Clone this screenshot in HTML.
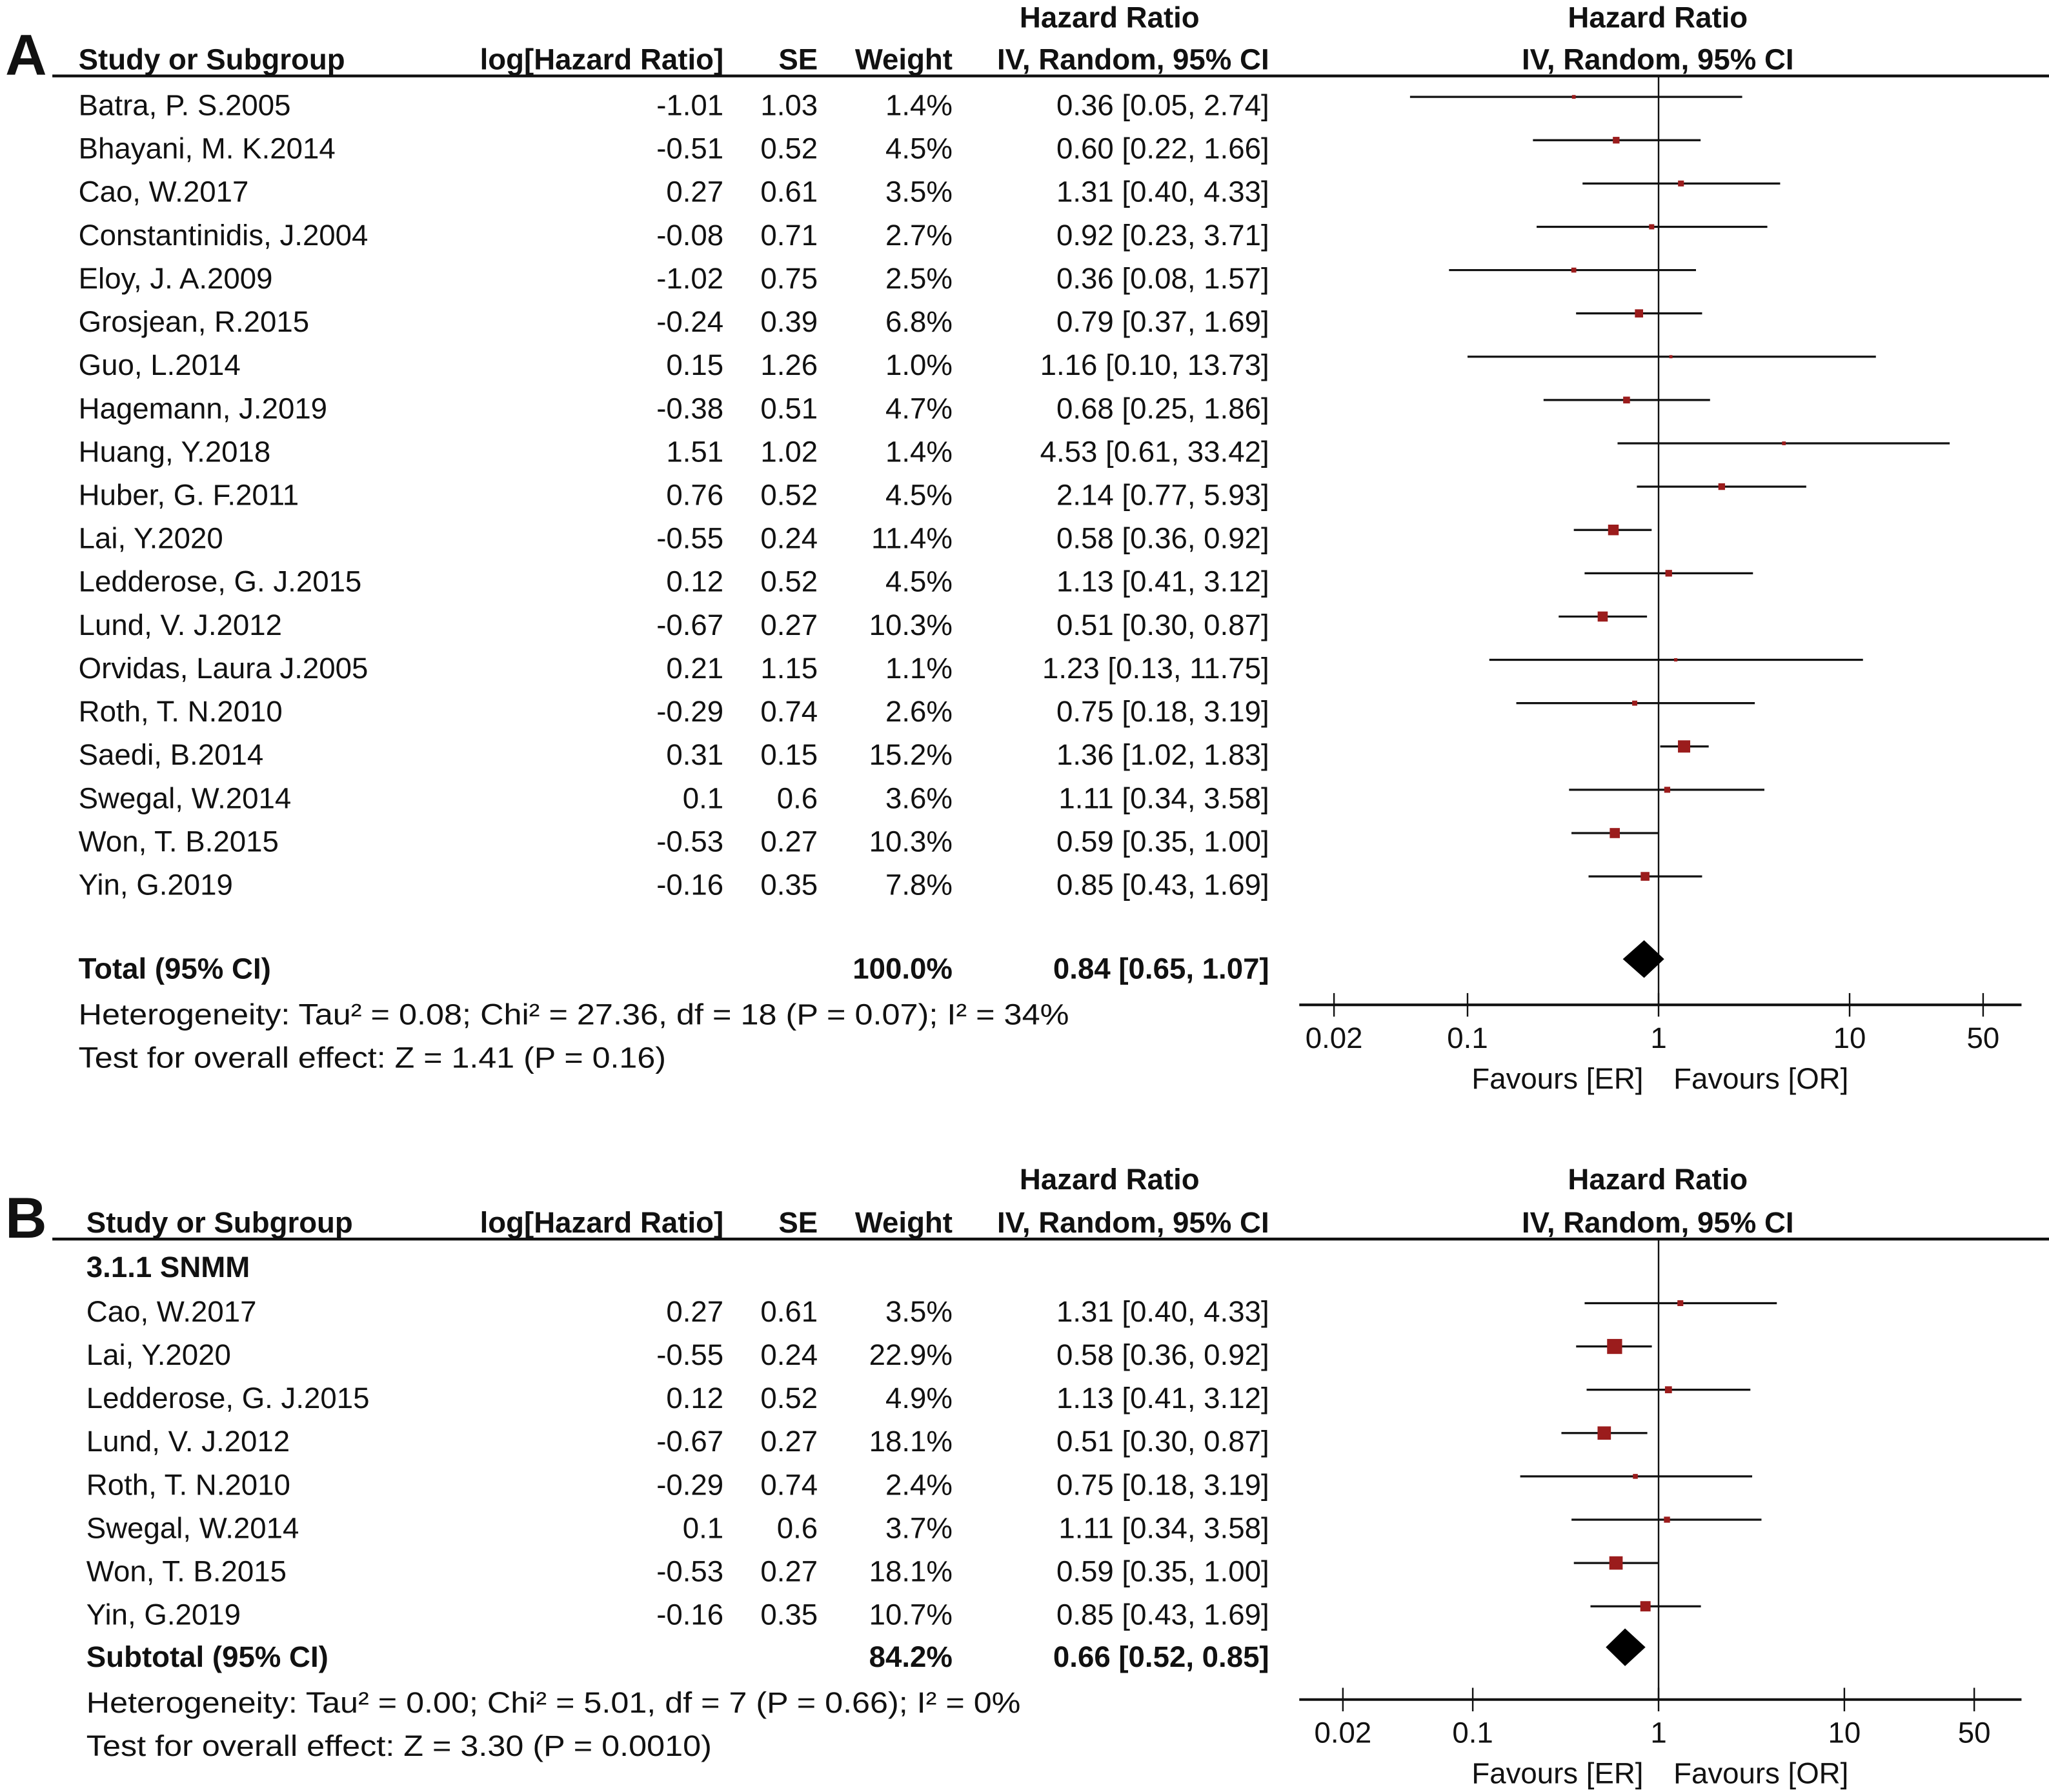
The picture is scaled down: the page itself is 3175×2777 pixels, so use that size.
<!DOCTYPE html>
<html><head><meta charset="utf-8"><style>
html,body{margin:0;padding:0;background:#fff}
svg{display:block}
text{font-family:"Liberation Sans",Arial,sans-serif;font-size:22.5px;fill:#111}
.b{font-weight:bold}
</style></head><body>
<svg id="chart" xmlns="http://www.w3.org/2000/svg" width="3175" height="2777" viewBox="0 0 1566 1369.6">
<g id="A"></g>
<g id="B"></g>
</svg>
<script>
// Panel A data
const studiesA = ["Batra, P. S.2005","Bhayani, M. K.2014","Cao, W.2017","Constantinidis, J.2004","Eloy, J. A.2009","Grosjean, R.2015","Guo, L.2014","Hagemann, J.2019","Huang, Y.2018","Huber, G. F.2011","Lai, Y.2020","Ledderose, G. J.2015","Lund, V. J.2012","Orvidas, Laura J.2005","Roth, T. N.2010","Saedi, B.2014","Swegal, W.2014","Won, T. B.2015","Yin, G.2019"];
const logHRA = ["-1.01","-0.51","0.27","-0.08","-1.02","-0.24","0.15","-0.38","1.51","0.76","-0.55","0.12","-0.67","0.21","-0.29","0.31","0.1","-0.53","-0.16"];
const seA = ["1.03","0.52","0.61","0.71","0.75","0.39","1.26","0.51","1.02","0.52","0.24","0.52","0.27","1.15","0.74","0.15","0.6","0.27","0.35"];
const weightA = [1.4,4.5,3.5,2.7,2.5,6.8,1.0,4.7,1.4,4.5,11.4,4.5,10.3,1.1,2.6,15.2,3.6,10.3,7.8];
const hrA = [0.36,0.60,1.31,0.92,0.36,0.79,1.16,0.68,4.53,2.14,0.58,1.13,0.51,1.23,0.75,1.36,1.11,0.59,0.85];
const loA = [0.05,0.22,0.40,0.23,0.08,0.37,0.10,0.25,0.61,0.77,0.36,0.41,0.30,0.13,0.18,1.02,0.34,0.35,0.43];
const hiA = [2.74,1.66,4.33,3.71,1.57,1.69,13.73,1.86,33.42,5.93,0.92,3.12,0.87,11.75,3.19,1.83,3.58,1.00,1.69];
const totalA = [0.84,0.65,1.07];
// Panel B data
const studiesB = ["Cao, W.2017","Lai, Y.2020","Ledderose, G. J.2015","Lund, V. J.2012","Roth, T. N.2010","Swegal, W.2014","Won, T. B.2015","Yin, G.2019"];
const logHRB = ["0.27","-0.55","0.12","-0.67","-0.29","0.1","-0.53","-0.16"];
const seB = ["0.61","0.24","0.52","0.27","0.74","0.6","0.27","0.35"];
const weightB = [3.5,22.9,4.9,18.1,2.4,3.7,18.1,10.7];
const hrB = [1.31,0.58,1.13,0.51,0.75,1.11,0.59,0.85];
const loB = [0.40,0.36,0.41,0.30,0.18,0.34,0.35,0.43];
const hiB = [4.33,0.92,3.12,0.87,3.19,3.58,1.00,1.69];
const subtotalB = [0.66,0.52,0.85];
const tickValues = [0.02,0.1,1,10,50];
const tickLabels = ["0.02","0.1","1","10","50"];

const NS="http://www.w3.org/2000/svg";
function mk(parent,tag,attrs,txt){const e=document.createElementNS(NS,tag);for(const k in attrs)e.setAttribute(k,attrs[k]);if(txt!==undefined)e.textContent=txt;parent.appendChild(e);return e;}
function fmt(v){return v.toFixed(2);}

function panel(g,cfg){
  const xs=v=>cfg.x1+cfg.dec*Math.log10(v);
  // letter
  let t=mk(g,'text',{x:cfg.letterX,y:cfg.hy2+12,style:'font-size:44px;font-weight:bold'},cfg.letter);
  
  
  // headers
  const hdr=[["Hazard Ratio",848,cfg.hy1,'middle'],["Hazard Ratio",1267,cfg.hy1,'middle'],
    ["Study or Subgroup",cfg.sx,cfg.hy2,'start'],["log[Hazard Ratio]",553,cfg.hy2,'end'],["SE",625,cfg.hy2,'end'],
    ["Weight",728,cfg.hy2,'end'],["IV, Random, 95% CI",970,cfg.hy2,'end'],["IV, Random, 95% CI",1267,cfg.hy2,'middle']];
  hdr.forEach(h=>{const e=mk(g,'text',{x:h[1],y:h[2]+8,'text-anchor':h[3],class:'b'},h[0]);
    
    });
  let l=mk(g,'line',{x1:40,x2:1566,y1:cfg.hy2+13,y2:cfg.hy2+13,stroke:'#111','stroke-width':2.2});
  
  
  // null line
  l=mk(g,'line',{x1:xs(1),x2:xs(1),y1:cfg.hy2+13,y2:cfg.axisY,stroke:'#111','stroke-width':1.2});
  
  
  if(cfg.sub){const e=mk(g,'text',{x:cfg.sx,y:cfg.subY+8,class:'b'},cfg.sub);
    
    }
  cfg.studies.forEach((s,i)=>{
    const y=cfg.y0+cfg.dy*i;
    const row=mk(g,'g',{});
    
    
    mk(row,'text',{x:cfg.sx,y:y+8},s);
    mk(row,'text',{x:553,y:y+8,'text-anchor':'end'},cfg.lhr[i]);
    mk(row,'text',{x:625,y:y+8,'text-anchor':'end'},cfg.se[i]);
    mk(row,'text',{x:728,y:y+8,'text-anchor':'end'},cfg.w[i].toFixed(1)+'%');
    mk(row,'text',{x:970,y:y+8,'text-anchor':'end'},fmt(cfg.hr[i])+' ['+fmt(cfg.lo[i])+', '+fmt(cfg.hi[i])+']');
    const my=y-6;
    const ci=mk(row,'line',{x1:xs(cfg.lo[i]),x2:xs(cfg.hi[i]),y1:my,y2:my,stroke:'#111','stroke-width':1.6});
    
    
    const sz=Math.sqrt(cfg.w[i])*2.4;
    const sq=mk(row,'rect',{x:xs(cfg.hr[i])-sz/2,y:my-sz/2,width:sz,height:sz,fill:'#9b1c1c'});
    
    
  });
  // total
  const ty=cfg.totY;
  const tg=mk(g,'g',{});
  
  
  mk(tg,'text',{x:cfg.sx,y:ty+8,class:'b'},cfg.totLabel);
  mk(tg,'text',{x:728,y:ty+8,'text-anchor':'end',class:'b'},cfg.totW);
  mk(tg,'text',{x:970,y:ty+8,'text-anchor':'end',class:'b'},fmt(cfg.tot[0])+' ['+fmt(cfg.tot[1])+', '+fmt(cfg.tot[2])+']');
  const dyc=ty-7;
  const d=mk(tg,'polygon',{points:`${xs(cfg.tot[1])},${dyc} ${xs(cfg.tot[0])},${dyc-14.4} ${xs(cfg.tot[2])},${dyc} ${xs(cfg.tot[0])},${dyc+14.4}`,fill:'#000'});
  
  
  let e=mk(g,'text',{x:cfg.sx,y:cfg.hetY+8,textLength:cfg.hetLen,lengthAdjust:'spacingAndGlyphs'},cfg.het);
  
  
  e=mk(g,'text',{x:cfg.sx,y:cfg.hetY+41,textLength:cfg.testLen,lengthAdjust:'spacingAndGlyphs'},cfg.test);
  
  
  // axis
  const ax=mk(g,'g',{});
  
  
  mk(ax,'line',{x1:993,x2:1545,y1:cfg.axisY,y2:cfg.axisY,stroke:'#111','stroke-width':2});
  tickValues.forEach((v,i)=>{
    mk(ax,'line',{x1:xs(v),x2:xs(v),y1:cfg.axisY-9,y2:cfg.axisY+9,stroke:'#111','stroke-width':1.2});
    const tl=mk(ax,'text',{x:xs(v),y:cfg.axisY+33,'text-anchor':'middle'},tickLabels[i]);
    
    
  });
  e=mk(g,'text',{x:1256,y:cfg.axisY+64,'text-anchor':'end'},'Favours [ER]');
  
  
  e=mk(g,'text',{x:1279,y:cfg.axisY+64},'Favours [OR]');
  
  
}

panel(document.getElementById('A'),{letter:'A',letterX:4,hy1:13,hy2:45,sx:60,x1:1267.6,dec:146,axisY:768,
  studies:studiesA,lhr:logHRA,se:seA,w:weightA,hr:hrA,lo:loA,hi:hiA,y0:80,dy:33.1,
  totY:740,totLabel:'Total (95% CI)',totW:'100.0%',tot:totalA,
  het:'Heterogeneity: Tau² = 0.08; Chi² = 27.36, df = 18 (P = 0.07); I² = 34%',hetY:775,hetLen:757,
  test:'Test for overall effect: Z = 1.41 (P = 0.16)',testLen:449});
panel(document.getElementById('B'),{letter:'B',letterX:4,hy1:901,hy2:934,sx:66,x1:1267.6,dec:142,axisY:1299,
  sub:'3.1.1 SNMM',subY:968,
  studies:studiesB,lhr:logHRB,se:seB,w:weightB,hr:hrB,lo:loB,hi:hiB,y0:1002,dy:33.1,
  totY:1266,totLabel:'Subtotal (95% CI)',totW:'84.2%',tot:subtotalB,
  het:'Heterogeneity: Tau² = 0.00; Chi² = 5.01, df = 7 (P = 0.66); I² = 0%',hetY:1301,hetLen:714,
  test:'Test for overall effect: Z = 3.30 (P = 0.0010)',testLen:478});
</script>
</body></html>
